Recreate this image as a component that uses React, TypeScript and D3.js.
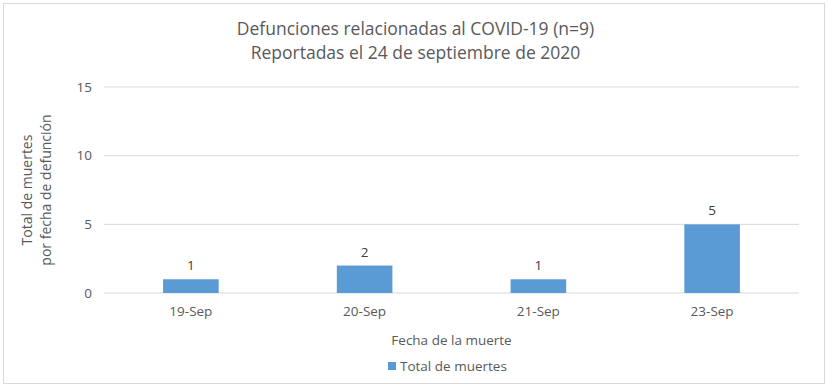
import * as d3 from 'd3';

const categories = ['19-Sep', '20-Sep', '21-Sep', '23-Sep'];
const deaths = [1, 2, 1, 5];
const yTicks = [0, 5, 10, 15];

const titleLines = ['Defunciones relacionadas al COVID-19 (n=9)', 'Reportadas el 24 de septiembre de 2020'];
const yTitleLines = ['Total de muertes', 'por fecha de defunción'];
const xTitle = 'Fecha de la muerte';
const seriesName = 'Total de muertes';

export default function App() {
  const width = 829, height = 386;
  const margin = { top: 87, right: 30, bottom: 93, left: 104 };
  const font = 'Open Sans, sans-serif';
  const textColor = '#595959';
  const barColor = '#5b9bd5';

  const x = d3.scaleBand().domain(categories).range([margin.left, width - margin.right]).paddingInner(0.68).paddingOuter(0.34);
  const y = d3.scaleLinear().domain([0, 15]).range([height - margin.bottom, margin.top]);

  const cy = (margin.top + height - margin.bottom) / 2;

  return (
    <svg width={width} height={height} style={{ position: 'absolute', left: 0, top: 0, background: '#fff' }} fontFamily={font}>
      <rect x={3.5} y={3.5} width={width - 8} height={height - 6} fill="#fff" stroke="#d9d9d9" />
      {titleLines.map((t, i) => (
        <text key={t} x={width / 2 + 1} y={35 + i * 24} textAnchor="middle" fontSize={17.5} fill={textColor}>{t}</text>
      ))}
      {yTicks.map((t) => (
        <g key={t}>
          <line x1={margin.left} x2={width - margin.right} y1={y(t)} y2={y(t)} stroke="#d9d9d9" strokeWidth={1} />
          <text x={margin.left - 12} y={y(t)} dy="0.35em" textAnchor="end" fontSize={13.5} fill={textColor}>{t}</text>
        </g>
      ))}
      {categories.map((c, i) => (
        <g key={c}>
          <rect x={x(c)} y={y(deaths[i])} width={x.bandwidth()} height={y(0) - y(deaths[i])} fill={barColor} />
          <text x={x(c)! + x.bandwidth() / 2} y={y(deaths[i]) - 9} textAnchor="middle" fontSize={13.5} fill="#404040">{deaths[i]}</text>
          <text x={x(c)! + x.bandwidth() / 2} y={y(0) + 23} textAnchor="middle" fontSize={13.5} fill={textColor}>{c}</text>
        </g>
      ))}
      <text x={(margin.left + width - margin.right) / 2} y={345} textAnchor="middle" fontSize={13.5} fill={textColor}>{xTitle}</text>
      {yTitleLines.map((t, i) => (
        <text key={t} transform={`translate(${32 + i * 19},${cy}) rotate(-90)`} textAnchor="middle" fontSize={14} fill={textColor}>{t}</text>
      ))}
      <rect x={388} y={362} width={8} height={8} fill={barColor} />
      <text x={400} y={370.5} fontSize={13.5} fill={textColor}>{seriesName}</text>
    </svg>
  );
}
